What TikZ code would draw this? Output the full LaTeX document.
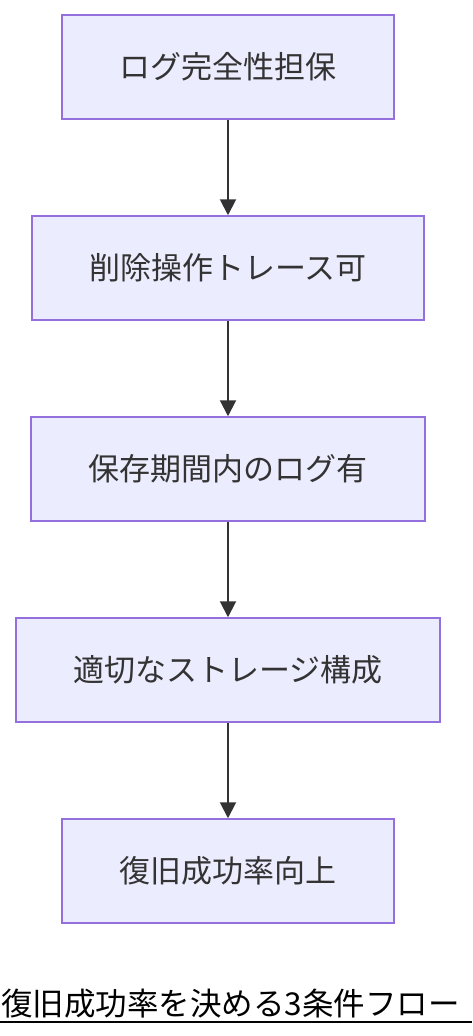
\documentclass[tikz,border=0pt]{standalone}
\usepackage{fontspec}
\setmainfont{Noto Sans CJK JP}
\usepackage{tikz}
\usetikzlibrary{arrows.meta}
\usetikzlibrary{positioning}

\definecolor{boxfill}{HTML}{ECECFF}
\definecolor{boxline}{HTML}{9370DB}
\definecolor{flowgray}{HTML}{333333}

\begin{document}
\begin{tikzpicture}[x=1pt, y=1pt,
    box/.style={draw=boxline, fill=boxfill, line width=1.5pt, text=flowgray,
                font=\fontsize{31pt}{36pt}\selectfont, inner xsep=57.5pt,
                minimum height=104pt},
    flowarrow/.style={draw=flowgray, line width=2pt,
                -{Triangle[length=16pt,width=16pt]}}]
    \useasboundingbox (0,0) rectangle (472,-1036);

    % The five steps
    \node [box] (LogFull) at (228,-67) {ログ完全性担保};
    \node [box, below=95.5pt of LogFull] (DelTrace) {削除操作トレース可};
    \node [box, below=95.5pt of DelTrace] (LogKept) {保存期間内のログ有};
    \node [box, below=95.5pt of LogKept] (Storage) {適切なストレージ構成};
    \node [box, below=95.5pt of Storage] (Recovery) {復旧成功率向上};

    % Draw the arrows
    \draw [flowarrow] (LogFull) -- (DelTrace);
    \draw [flowarrow] (DelTrace) -- (LogKept);
    \draw [flowarrow] (LogKept) -- (Storage);
    \draw [flowarrow] (Storage) -- (Recovery);

    % Title with underline
    \node [anchor=base west, inner sep=0pt, font=\fontsize{31.5pt}{36pt}\selectfont]
        (Title) at (1,-1015) {復旧成功率を決める3条件フロー};
    \coordinate (LineLeft)  at (0,-1021.5);
    \coordinate (LineRight) at (472,-1021.5);
    \draw [line width=2pt] (LineLeft) -- (LineRight);
\end{tikzpicture}
\end{document}
